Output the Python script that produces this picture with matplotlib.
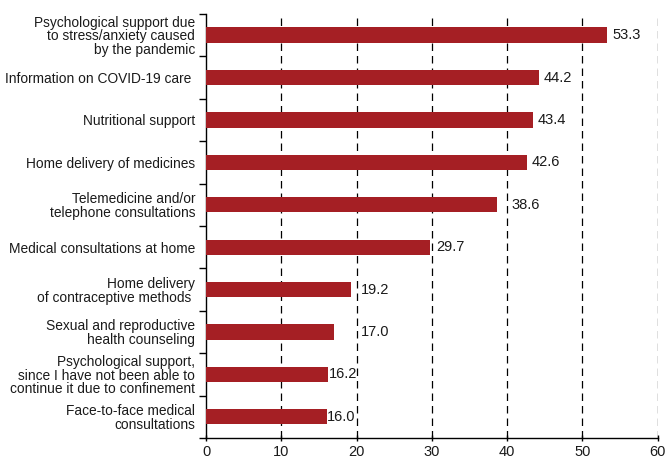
import matplotlib
matplotlib.use("Agg")
import matplotlib.pyplot as plt
import numpy as np

categories = [
    "Psychological support due\nto stress/anxiety caused\nby the pandemic",
    "Information on COVID-19 care ",
    "Nutritional support",
    "Home delivery of medicines",
    "Telemedicine and/or\ntelephone consultations",
    "Medical consultations at home",
    "Home delivery\nof contraceptive methods ",
    "Sexual and reproductive\nhealth counseling",
    "Psychological support,\nsince I have not been able to\ncontinue it due to confinement",
    "Face-to-face medical\nconsultations",
]
values = [53.3, 44.2, 43.4, 42.6, 38.6, 29.7, 19.2, 17.0, 16.2, 16.0]
xticks = [0, 10, 20, 30, 40, 50, 60]

plt.rcParams['font.family'] = ['Liberation Sans', 'DejaVu Sans']

fig = plt.figure(figsize=(6.65, 4.63), dpi=100)
ax = fig.add_axes([0.310, 0.054, 0.679, 0.916])

n = len(categories)
y = np.arange(n)
color = '#a51f24'
ax.barh(y, values, height=0.36, color=color, zorder=3)

ax.set_ylim(n - 0.5, -0.5)
ax.set_xlim(0, 60)

# value labels, nudged so they don't sit on a gridline
fig.canvas.draw()
renderer = fig.canvas.get_renderer()
inv = ax.transData.inverted()
for yi, v in zip(y, values):
    t = ax.text(v + 0.7, yi, f"{v:.1f}", va='center', ha='left', fontsize=10.5,
                color='#1a1a1a', zorder=4)
    bb = t.get_window_extent(renderer)
    w = inv.transform((bb.x1, 0))[0] - inv.transform((bb.x0, 0))[0]
    start = v + 0.7
    for g in xticks[1:]:
        if v < g < start + w + 0.2:
            if g - v >= w - 0.1:
                start = v + 0.1
            else:
                start = g + 0.6
            break
    t.set_x(start)

ax.set_xticks(xticks)
ax.set_xticklabels([str(t) for t in xticks], fontsize=10.5, color='#1a1a1a')
ax.set_yticks(y)
ax.set_yticklabels(categories, fontsize=9.9, ha='right', linespacing=0.95, color='#1a1a1a')
ax.set_yticks(np.arange(-0.5, n, 1.0), minor=True)
ax.tick_params(axis='y', which='major', length=0, pad=8)
ax.tick_params(axis='y', which='minor', length=5, width=1, direction='out')
ax.tick_params(axis='x', which='major', length=4, width=1, direction='inout', pad=3)

for t in xticks[1:]:
    ax.axvline(t, color='black', linestyle=(0, (6, 4)), linewidth=0.9, zorder=1)

for s in ['top', 'right']:
    ax.spines[s].set_visible(False)
for s in ['left', 'bottom']:
    ax.spines[s].set_linewidth(1.0)

fig.savefig("out.png", dpi=100)
